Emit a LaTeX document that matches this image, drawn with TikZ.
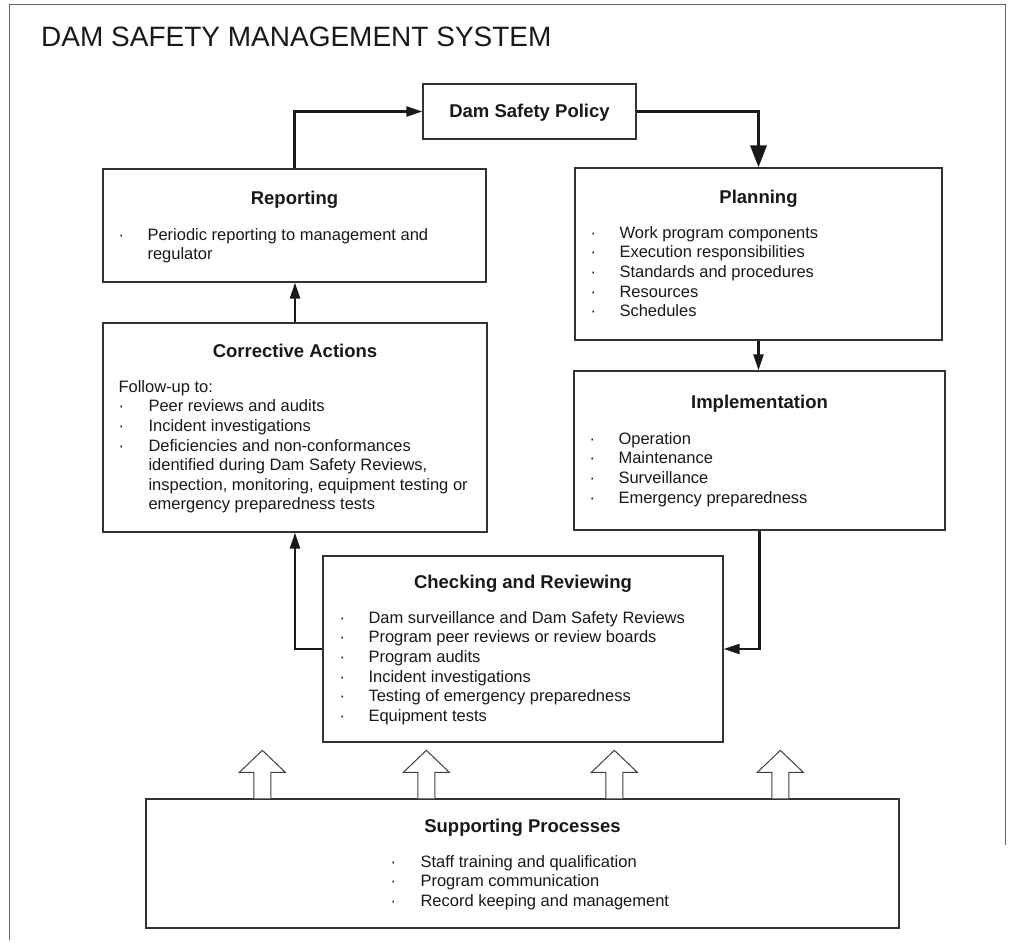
\documentclass[tikz,border=0pt]{standalone}
\usepackage{fontspec}
\setmainfont{Liberation Sans}
\usetikzlibrary{positioning,arrows.meta}

\begin{document}
\begin{tikzpicture}[x=1pt, y=-1pt,
		boxnode/.style={rectangle, draw=black!80, line width=1.3pt, fill=white, inner sep=0pt},
		headtext/.style={font=\fontsize{18.5}{22}\selectfont\bfseries, text=black!90, inner sep=0pt, anchor=base},
		listtext/.style={font=\fontsize{16.5}{19.6}\selectfont, text=black!90, inner sep=0pt, anchor=base west, align=left},
		flow/.style={draw=black!90, line width=2.4pt, -{Triangle[length=16pt,width=10pt]}},
		bigflow/.style={draw=black!90, line width=3.5pt, -{Triangle[length=22pt,width=16pt]}},
		blockarrow/.style={draw=black!75, line width=1pt, fill=white},
	]
		\useasboundingbox (0,0) rectangle (1013,947);

		% frame and title
		\draw[black!60, line width=1pt] (9,940) -- (9,5) -- (1005,5) -- (1005,845);
		\node[font=\fontsize{28}{33}\selectfont, text=black!90, inner sep=0pt, anchor=base west] (title) at (41,47) {DAM SAFETY MANAGEMENT SYSTEM};

		% boxes
		\node[boxnode, minimum width=213pt, minimum height=55pt] (pol) at (529.5,111.5) {};
		\node[boxnode, minimum width=383pt, minimum height=113pt] (rep) at (294.5,225.5) {};
		\node[boxnode, minimum width=367pt, minimum height=172pt] (plan) at (758.5,254) {};
		\node[boxnode, minimum width=384pt, minimum height=209pt] (corr) at (295,427.5) {};
		\node[boxnode, minimum width=371pt, minimum height=159pt] (impl) at (759.5,450.5) {};
		\node[boxnode, minimum width=400pt, minimum height=186pt] (chk) at (523,649) {};
		\node[boxnode, minimum width=753pt, minimum height=129pt] (sup) at (522.5,863.5) {};

		% headings
		\node[headtext] (polhead) at ([yshift=-6.5pt]pol.center) {Dam Safety Policy};
		\node[headtext] (rephead) at ([yshift=-36pt]rep.north) {Reporting};
		\node[headtext] (planhead) at ([yshift=-36pt]plan.north) {Planning};
		\node[headtext] (corrhead) at ([yshift=-35pt]corr.north) {Corrective Actions};
		\node[headtext] (implhead) at ([yshift=-38pt]impl.north) {Implementation};
		\node[headtext] (chkhead) at ([yshift=-33pt]chk.north) {Checking and Reviewing};
		\node[headtext] (suphead) at ([yshift=-34pt]sup.north) {Supporting Processes};

		% lists
		\node[listtext] (replist) at ([xshift=16pt,yshift=-72pt]rep.north west) {\begin{tabular}[t]{@{}p{29pt}@{}l@{}}
			· & Periodic reporting to management and\\
			  & regulator
		\end{tabular}};
		\node[listtext] (planlist) at ([xshift=16pt,yshift=-71pt]plan.north west) {\begin{tabular}[t]{@{}p{29pt}@{}l@{}}
			· & Work program components\\
			· & Execution responsibilities\\
			· & Standards and procedures\\
			· & Resources\\
			· & Schedules
		\end{tabular}};
		\node[listtext] (corrlist) at ([xshift=16pt,yshift=-70pt]corr.north west) {\begin{tabular}[t]{@{}p{30pt}@{}l@{}}
			\multicolumn{2}{@{}l@{}}{Follow-up to:}\\
			· & Peer reviews and audits\\
			· & Incident investigations\\
			· & Deficiencies and non-conformances\\
			  & identified during Dam Safety Reviews,\\
			  & inspection, monitoring, equipment testing or\\
			  & emergency preparedness tests
		\end{tabular}};
		\node[listtext] (impllist) at ([xshift=16pt,yshift=-74pt]impl.north west) {\begin{tabular}[t]{@{}p{29pt}@{}l@{}}
			· & Operation\\
			· & Maintenance\\
			· & Surveillance\\
			· & Emergency preparedness
		\end{tabular}};
		\node[listtext] (chklist) at ([xshift=17pt,yshift=-68pt]chk.north west) {\begin{tabular}[t]{@{}p{29pt}@{}l@{}}
			· & Dam surveillance and Dam Safety Reviews\\
			· & Program peer reviews or review boards\\
			· & Program audits\\
			· & Incident investigations\\
			· & Testing of emergency preparedness\\
			· & Equipment tests
		\end{tabular}};
		\node[listtext] (suplist) at ([xshift=245pt,yshift=-69pt]sup.north west) {\begin{tabular}[t]{@{}p{30pt}@{}l@{}}
			· & Staff training and qualification\\
			· & Program communication\\
			· & Record keeping and management
		\end{tabular}};

		% lines
		\draw[flow] (rep.north) |- (pol.west);
		\draw[bigflow] (pol.east) -| (plan.north);
		\draw[flow] (plan.south) -- (plan.south |- impl.north);
		\draw[flow] (impl.south) |- (chk.east);
		\draw[flow] (chk.west) -| (corr.south);
		\draw[flow] (corr.north) -- (corr.north |- rep.south);

		% support arrows
		\foreach \dx in {117,281,469,635}
			\draw[blockarrow] ([xshift=\dx-8.5]sup.north west) -- ++(0,-26) -- ++(-14.5,0) -- ++(23,-22) -- ++(23,22) -- ++(-14.5,0) -- ++(0,26);

	\end{tikzpicture}
\end{document}
